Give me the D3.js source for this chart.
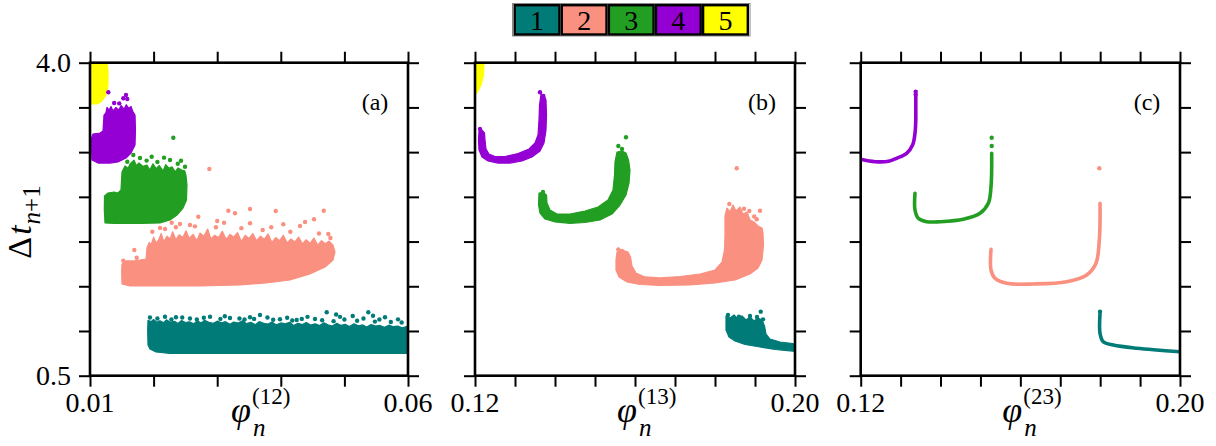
<!DOCTYPE html>
<html><head><meta charset="utf-8">
<script src="https://cdn.jsdelivr.net/npm/d3@7"></script>
<style>body{margin:0;background:#fff} svg{display:block}</style>
</head><body>
<svg id="chart" width="1216" height="446"></svg>
<script>
// ---------------- DATA ----------------
const categories = ["1","2","3","4","5"];
const colors = ["#007b78","#fa9080","#229e22","#9400d3","#ffff00"];
const yDomain = [0.5, 4.0];
const yTicks = [0.5,1.0,1.5,2.0,2.5,3.0,3.5,4.0];
const yTickLabels = ["0.5","4.0"];
const xDomainA = [0.01, 0.06];
const xTicksA = [0.01,0.02,0.03,0.04,0.05,0.06];
const xTickLabelsA = ["0.01","0.06"];
const xDomainBC = [0.12, 0.20];
const xTicksBC = [0.12,0.13,0.14,0.15,0.16,0.17,0.18,0.19,0.20];
const xTickLabelsBC = ["0.12","0.20"];
const panelNames = ["(a)","(b)","(c)"];
const superscripts = ["(12)","(13)","(23)"];

// panel (a): cloud outlines [phi, dt] per series
const a1Cloud = [[0.01907,1.011],[0.01912,1.120],[0.01960,1.105],[0.02000,1.128],[0.02050,1.098],[0.02100,1.115],[0.02160,1.092],[0.02200,1.125],[0.02260,1.100],[0.02330,1.108],[0.02380,1.085],[0.02440,1.118],[0.02500,1.095],[0.02560,1.103],[0.02630,1.080],[0.02690,1.112],[0.02750,1.090],[0.02800,1.120],[0.02870,1.098],[0.02940,1.085],[0.03000,1.110],[0.03070,1.092],[0.03130,1.104],[0.03200,1.075],[0.03260,1.100],[0.03330,1.088],[0.03400,1.115],[0.03460,1.082],[0.03530,1.096],[0.03600,1.070],[0.03660,1.105],[0.03730,1.085],[0.03800,1.078],[0.03860,1.100],[0.03930,1.068],[0.04000,1.090],[0.04070,1.080],[0.04140,1.098],[0.04200,1.062],[0.04270,1.085],[0.04340,1.072],[0.04400,1.095],[0.04470,1.066],[0.04540,1.080],[0.04610,1.060],[0.04680,1.092],[0.04740,1.070],[0.04810,1.055],[0.04880,1.085],[0.04950,1.062],[0.05010,1.075],[0.05080,1.050],[0.05150,1.080],[0.05220,1.058],[0.05290,1.068],[0.05350,1.045],[0.05420,1.072],[0.05490,1.055],[0.05560,1.062],[0.05630,1.040],[0.05700,1.065],[0.05770,1.048],[0.05840,1.055],[0.05910,1.035],[0.05980,1.050],[0.06031,1.040],[0.06031,0.748],[0.02258,0.748],[0.02038,0.765],[0.01943,0.799],[0.01912,0.843]];
const a2Cloud = [[0.01503,1.526],[0.01498,1.660],[0.01503,1.749],[0.01566,1.783],[0.01692,1.783],[0.01786,1.794],[0.01881,1.805],[0.01896,1.930],[0.01930,1.990],[0.01960,1.960],[0.02000,2.050],[0.02040,1.985],[0.02080,2.020],[0.02120,2.090],[0.02160,2.000],[0.02210,2.060],[0.02260,2.030],[0.02300,2.110],[0.02350,2.020],[0.02400,2.075],[0.02460,2.045],[0.02510,2.120],[0.02560,2.035],[0.02620,2.080],[0.02680,2.010],[0.02730,2.095],[0.02790,2.060],[0.02850,2.140],[0.02900,2.030],[0.02960,2.070],[0.03020,2.045],[0.03080,2.115],[0.03140,2.025],[0.03200,2.080],[0.03260,2.050],[0.03320,2.100],[0.03380,2.000],[0.03440,2.070],[0.03500,2.035],[0.03560,2.090],[0.03620,2.010],[0.03680,2.060],[0.03740,2.025],[0.03800,2.085],[0.03860,1.990],[0.03920,2.045],[0.03980,2.010],[0.04040,2.070],[0.04100,1.985],[0.04160,2.030],[0.04220,1.995],[0.04280,2.050],[0.04340,1.975],[0.04400,2.020],[0.04460,1.980],[0.04520,2.040],[0.04580,1.960],[0.04640,2.010],[0.04700,1.975],[0.04760,2.005],[0.04821,1.960],[0.04852,1.883],[0.04821,1.794],[0.04695,1.716],[0.04459,1.637],[0.04145,1.570],[0.03767,1.537],[0.03358,1.514],[0.02730,1.503],[0.02101,1.503],[0.01629,1.503]];
const a3Cloud = [[0.01236,2.208],[0.01225,2.353],[0.01228,2.509],[0.01283,2.543],[0.01377,2.554],[0.01440,2.543],[0.01487,2.577],[0.01503,2.778],[0.01550,2.845],[0.01600,2.820],[0.01629,2.867],[0.01692,2.910],[0.01730,2.850],[0.01770,2.880],[0.01833,2.840],[0.01896,2.856],[0.01940,2.800],[0.01990,2.870],[0.02040,2.815],[0.02090,2.850],[0.02148,2.790],[0.02190,2.860],[0.02240,2.820],[0.02290,2.835],[0.02340,2.780],[0.02384,2.823],[0.02440,2.800],[0.02490,2.790],[0.02509,2.740],[0.02525,2.632],[0.02517,2.465],[0.02462,2.375],[0.02368,2.297],[0.02258,2.241],[0.02101,2.208],[0.01786,2.202],[0.01393,2.202]];
const a4Cloud = [[0.01031,2.912],[0.01024,3.024],[0.01024,3.158],[0.01047,3.203],[0.01157,3.214],[0.01204,3.236],[0.01220,3.415],[0.01250,3.440],[0.01267,3.500],[0.01300,3.470],[0.01330,3.510],[0.01362,3.460],[0.01409,3.500],[0.01450,3.470],[0.01490,3.520],[0.01535,3.480],[0.01570,3.530],[0.01610,3.490],[0.01645,3.510],[0.01676,3.450],[0.01708,3.415],[0.01715,3.247],[0.01708,3.080],[0.01645,2.990],[0.01566,2.934],[0.01440,2.890],[0.01314,2.878],[0.01126,2.878]];
const a5Cloud = [[0.0100,4.0],[0.01267,4.0],[0.01283,3.918],[0.01283,3.751],[0.01252,3.639],[0.01189,3.572],[0.01110,3.538],[0.01031,3.538],[0.0100,3.583]];
// panel (a): isolated points
const a1Dots = [[0.04722,1.209],[0.05376,1.209],[0.03673,1.179],[0.02887,1.160],[0.02179,1.160],[0.05131,1.168],[0.05638,1.153],[0.02352,1.153],[0.03516,1.153],[0.04538,1.134],[0.04250,1.123],[0.01943,1.150],[0.02572,1.140],[0.03201,1.145],[0.03987,1.132],[0.04931,1.158],[0.05843,1.130],[0.02060,1.140],[0.02280,1.130],[0.02450,1.150],[0.02680,1.128],[0.02790,1.148],[0.03050,1.135],[0.03120,1.165],[0.03350,1.140],[0.03430,1.128],[0.03580,1.135],[0.03790,1.150],[0.03880,1.125],[0.04100,1.148],[0.04180,1.118],[0.04330,1.135],[0.04420,1.158],[0.04650,1.120],[0.04830,1.110],[0.05000,1.128],[0.05200,1.115],[0.05300,1.140],[0.05480,1.105],[0.05550,1.128],[0.05730,1.100],[0.05900,1.095],[0.05450,1.170],[0.04870,1.185]];
const a2Dots = [[0.02876,2.811],[0.03175,2.345],[0.03516,2.364],[0.03920,2.342],[0.04675,2.345],[0.03280,2.316],[0.04522,2.249],[0.04039,2.193],[0.01697,1.906],[0.01524,1.786],[0.02703,2.278],[0.02285,2.211],[0.03715,2.129],[0.03516,2.204],[0.03107,2.211],[0.01734,1.819],[0.04747,2.085],[0.02572,2.185],[0.04302,2.174],[0.02101,2.152],[0.04381,2.219],[0.02415,2.196],[0.01980,2.110],[0.02180,2.140],[0.02650,2.170],[0.02980,2.160],[0.03380,2.150],[0.03850,2.160],[0.04150,2.110],[0.04600,2.090],[0.04780,2.040],[0.02350,2.160],[0.03000,2.230]];
const a3Dots = [[0.02310,3.161],[0.01681,2.968],[0.01970,2.949],[0.02164,2.938],[0.02431,2.904],[0.02494,2.837],[0.01586,2.893],[0.01786,2.934],[0.02258,2.912],[0.01890,2.905],[0.02060,2.890],[0.02380,2.870]];
const a4Dots = [[0.01288,3.669],[0.01566,3.639],[0.01524,3.602],[0.01586,3.594],[0.01380,3.550],[0.01460,3.545]];

// panel (b): cloud outlines
const b1Cloud = [[0.18275,1.168],[0.18275,1.011],[0.18350,0.933],[0.18500,0.888],[0.18750,0.849],[0.19125,0.821],[0.19500,0.793],[0.20025,0.771],[0.20025,0.855],[0.19625,0.877],[0.19375,0.910],[0.19275,0.966],[0.19238,1.056],[0.19175,1.123],[0.19075,1.145],[0.18975,1.112],[0.18875,1.156],[0.18775,1.123],[0.18675,1.168],[0.18575,1.134],[0.18475,1.179],[0.18375,1.145]];
const b2Cloud = [[0.15550,1.883],[0.15525,1.794],[0.15525,1.682],[0.15600,1.604],[0.15800,1.548],[0.16125,1.520],[0.16625,1.509],[0.17375,1.514],[0.18000,1.537],[0.18500,1.570],[0.18875,1.637],[0.19075,1.704],[0.19175,1.794],[0.19213,1.962],[0.19200,2.096],[0.19175,2.152],[0.19075,2.174],[0.18975,2.219],[0.18875,2.241],[0.18800,2.331],[0.18700,2.308],[0.18625,2.386],[0.18525,2.342],[0.18450,2.409],[0.18375,2.331],[0.18300,2.375],[0.18250,2.286],[0.18250,2.073],[0.18238,1.906],[0.18175,1.771],[0.18000,1.682],[0.17625,1.637],[0.17125,1.609],[0.16625,1.593],[0.16250,1.604],[0.16025,1.648],[0.15925,1.727],[0.15888,1.827],[0.15825,1.883],[0.15675,1.906]];
const b3Cloud = [[0.13600,2.543],[0.13588,2.409],[0.13625,2.319],[0.13750,2.252],[0.14000,2.219],[0.14375,2.204],[0.14750,2.213],[0.15125,2.241],[0.15425,2.308],[0.15625,2.409],[0.15775,2.521],[0.15850,2.655],[0.15875,2.800],[0.15838,2.912],[0.15775,2.990],[0.15675,3.013],[0.15550,3.001],[0.15500,2.890],[0.15488,2.744],[0.15450,2.577],[0.15325,2.465],[0.15075,2.386],[0.14750,2.342],[0.14375,2.308],[0.14050,2.308],[0.13875,2.353],[0.13800,2.431],[0.13788,2.521],[0.13700,2.549]];
const b4Cloud = [[0.12100,3.236],[0.12088,3.136],[0.12100,3.024],[0.12175,2.946],[0.12325,2.901],[0.12575,2.878],[0.12875,2.878],[0.13175,2.901],[0.13425,2.946],[0.13625,3.013],[0.13725,3.102],[0.13775,3.247],[0.13788,3.415],[0.13775,3.583],[0.13725,3.639],[0.13650,3.650],[0.13613,3.527],[0.13600,3.359],[0.13575,3.192],[0.13500,3.102],[0.13350,3.035],[0.13075,2.985],[0.12750,2.951],[0.12500,2.951],[0.12350,2.979],[0.12275,3.035],[0.12250,3.136],[0.12238,3.214],[0.12175,3.247]];
const b5Cloud = [[0.1200,4.0],[0.12225,4.0],[0.12213,3.862],[0.12150,3.751],[0.12050,3.661],[0.1200,3.650]];
const b1Dots = [[0.19143,1.216],[0.18325,1.179],[0.18875,1.168],[0.19050,1.156],[0.18600,1.160],[0.19200,1.130]];
const b2Dots = [[0.18543,2.819],[0.18358,2.420],[0.18725,2.367],[0.18858,2.342],[0.19125,2.345],[0.19043,2.249],[0.18918,2.196],[0.15583,1.913],[0.15675,1.894],[0.18480,2.280],[0.18980,2.280]];
const b3Dots = [[0.15775,3.166],[0.15583,3.069],[0.15675,3.035],[0.13700,2.554]];
const b4Dots = [[0.13625,3.669],[0.13708,3.628],[0.12125,3.259]];

// panel (c): thin curves
const c1Curve = [[0.17996,1.190],[0.17996,0.974],[0.18078,0.880],[0.18329,0.843],[0.18915,0.807],[0.20000,0.768]];
const c2Curve = [[0.15265,1.913],[0.15265,1.682],[0.15365,1.589],[0.15658,1.533],[0.16324,1.526],[0.17161,1.551],[0.17662,1.626],[0.17895,1.757],[0.17978,2.017],[0.17996,2.428]];
const c3Curve = [[0.13360,2.540],[0.13360,2.353],[0.13443,2.260],[0.13654,2.222],[0.13987,2.222],[0.14571,2.249],[0.14989,2.316],[0.15197,2.428],[0.15265,2.613],[0.15282,2.987]];
const c4Curve = [[0.1200,2.920],[0.1236,2.893],[0.1270,2.898],[0.1290,2.931],[0.1315,2.987],[0.1330,3.080],[0.1336,3.211],[0.1338,3.360],[0.1338,3.508],[0.1338,3.628]];
const c1Dots = [[0.17996,1.216]];
const c2Dots = [[0.17978,2.819]];
const c3Dots = [[0.15282,3.069],[0.15282,3.161]];
const c4Dots = [[0.13378,3.676],[0.13378,3.644]];

// ---------------- DRAW ----------------
const FONT = "'Liberation Serif','Times New Roman',serif";
const svg = d3.select("#chart");
const topY = 62.7, botY = 375.7;
const y = d3.scaleLinear().domain(yDomain).range([botY, topY]);

const panels = [
  {x0:90, x1:408, domain:xDomainA, ticks:xTicksA, labels:xTickLabelsA,
   clouds:[a1Cloud,a2Cloud,a3Cloud,a4Cloud,a5Cloud], dots:[a1Dots,a2Dots,a3Dots,a4Dots,[]], curves:null},
  {x0:475, x1:795, domain:xDomainBC, ticks:xTicksBC, labels:xTickLabelsBC,
   clouds:[b1Cloud,b2Cloud,b3Cloud,b4Cloud,b5Cloud], dots:[b1Dots,b2Dots,b3Dots,b4Dots,[]], curves:null},
  {x0:860.7, x1:1180, domain:xDomainBC, ticks:xTicksBC, labels:xTickLabelsBC,
   clouds:null, dots:[c1Dots,c2Dots,c3Dots,c4Dots,[]], curves:[c1Curve,c2Curve,c3Curve,c4Curve]}
];

const defs = svg.append("defs");
panels.forEach((p, pi) => {
  const x = d3.scaleLinear().domain(p.domain).range([p.x0, p.x1]);
  defs.append("clipPath").attr("id", "clip"+pi)
    .append("rect").attr("x", p.x0).attr("y", topY).attr("width", p.x1-p.x0).attr("height", botY-topY);
  const g = svg.append("g").attr("clip-path", `url(#clip${pi})`);
  const line = d3.line().x(d => x(d[0])).y(d => y(d[1]));
  if (p.clouds) {
    p.clouds.forEach((c, i) => {
      g.append("path").attr("d", line.curve(d3.curveLinearClosed)(c))
        .attr("fill", colors[i]).attr("stroke", colors[i]).attr("stroke-width", 1.2)
        .attr("stroke-linejoin", "round");
    });
  }
  if (p.curves) {
    p.curves.forEach((c, i) => {
      g.append("path").attr("d", d3.line().x(d => x(d[0])).y(d => y(d[1])).curve(d3.curveCatmullRom.alpha(0.5))(c))
        .attr("fill", "none").attr("stroke", colors[i]).attr("stroke-width", 3.6)
        .attr("stroke-linecap", "round");
    });
  }
  p.dots.forEach((ds, i) => {
    g.selectAll(null).data(ds).enter().append("circle")
      .attr("cx", d => x(d[0])).attr("cy", d => y(d[1])).attr("r", 2.2).attr("fill", colors[i]);
  });

  // ticks on all four sides
  const axes = [
    [d3.axisLeft(y).tickValues(yTicks), `translate(${p.x0},0)`],
    [d3.axisRight(y).tickValues(yTicks), `translate(${p.x1},0)`],
    [d3.axisTop(x).tickValues(p.ticks), `translate(0,${topY})`],
    [d3.axisBottom(x).tickValues(p.ticks), `translate(0,${botY})`]
  ];
  axes.forEach(([ax, tr]) => {
    const ag = svg.append("g").attr("transform", tr).call(ax.tickSize(11).tickFormat(""));
    ag.select(".domain").remove();
    ag.selectAll("line").attr("stroke", "#000").attr("stroke-width", 2);
  });
  // frame
  svg.append("rect").attr("x", p.x0).attr("y", topY).attr("width", p.x1-p.x0).attr("height", botY-topY)
    .attr("fill", "none").attr("stroke", "#000").attr("stroke-width", 2.6);

  // x tick labels (ends only)
  [p.domain[0], p.domain[1]].forEach((v, k) => {
    svg.append("text").attr("x", x(v)).attr("y", 412).attr("text-anchor", "middle")
      .attr("font-family", FONT).attr("font-size", 28).text(p.labels[k]);
  });
  // y tick labels on first panel
  if (pi === 0) {
    [yDomain[1], yDomain[0]].forEach((v, k) => {
      svg.append("text").attr("x", 71).attr("y", y(v)).attr("dy", "0.34em").attr("text-anchor", "end")
        .attr("font-family", FONT).attr("font-size", 28).text(yTickLabels[k===0?1:0]);
    });
  }
  // panel label
  svg.append("text").attr("x", p.x1 - 33).attr("y", 110).attr("text-anchor", "middle")
    .attr("font-family", FONT).attr("font-size", 24).text(panelNames[pi]);
  // x title
  const cx = (p.x0 + p.x1) / 2;
  svg.append("text").attr("x", cx - 18).attr("y", 422).attr("font-family", FONT)
    .attr("font-style", "italic").attr("font-size", 36).text("\u03c6");
  svg.append("text").attr("x", cx + 4).attr("y", 436).attr("font-family", FONT)
    .attr("font-style", "italic").attr("font-size", 25).text("n");
  svg.append("text").attr("x", cx + 3).attr("y", 404).attr("font-family", FONT)
    .attr("font-size", 23).text(superscripts[pi]);
});

// y title
const yt = svg.append("text").attr("transform", "translate(31,222) rotate(-90)")
  .attr("text-anchor", "middle").attr("font-family", FONT).attr("font-size", 34);
yt.append("tspan").text("\u0394");
yt.append("tspan").attr("font-style", "italic").attr("dx", 2).text("t");
yt.append("tspan").attr("font-style", "italic").attr("font-size", 25).attr("dy", 9).attr("dx", 1).text("n");
yt.append("tspan").attr("font-size", 25).text("+1");

// legend
const legX = d3.scaleBand().domain(categories).range([513.5, 749]);
const lg = svg.append("g");
lg.append("rect").attr("x", 512.5).attr("y", 3.5).attr("width", 237.5).attr("height", 32.5)
  .attr("fill", "none").attr("stroke", "#888").attr("stroke-width", 1);
lg.selectAll("rect.box").data(categories).enter().append("rect").attr("class", "box")
  .attr("x", d => legX(d) + 1.2).attr("y", 5.2).attr("width", legX.bandwidth() - 2.4).attr("height", 29.3)
  .attr("fill", (d, i) => colors[i]).attr("stroke", "#000").attr("stroke-width", 2.4);
lg.selectAll("text").data(categories).enter().append("text")
  .attr("x", d => legX(d) + legX.bandwidth() / 2).attr("y", 30).attr("text-anchor", "middle")
  .attr("font-family", FONT).attr("font-size", 28).attr("fill", "#000").text(d => d);
</script>
</body></html>
